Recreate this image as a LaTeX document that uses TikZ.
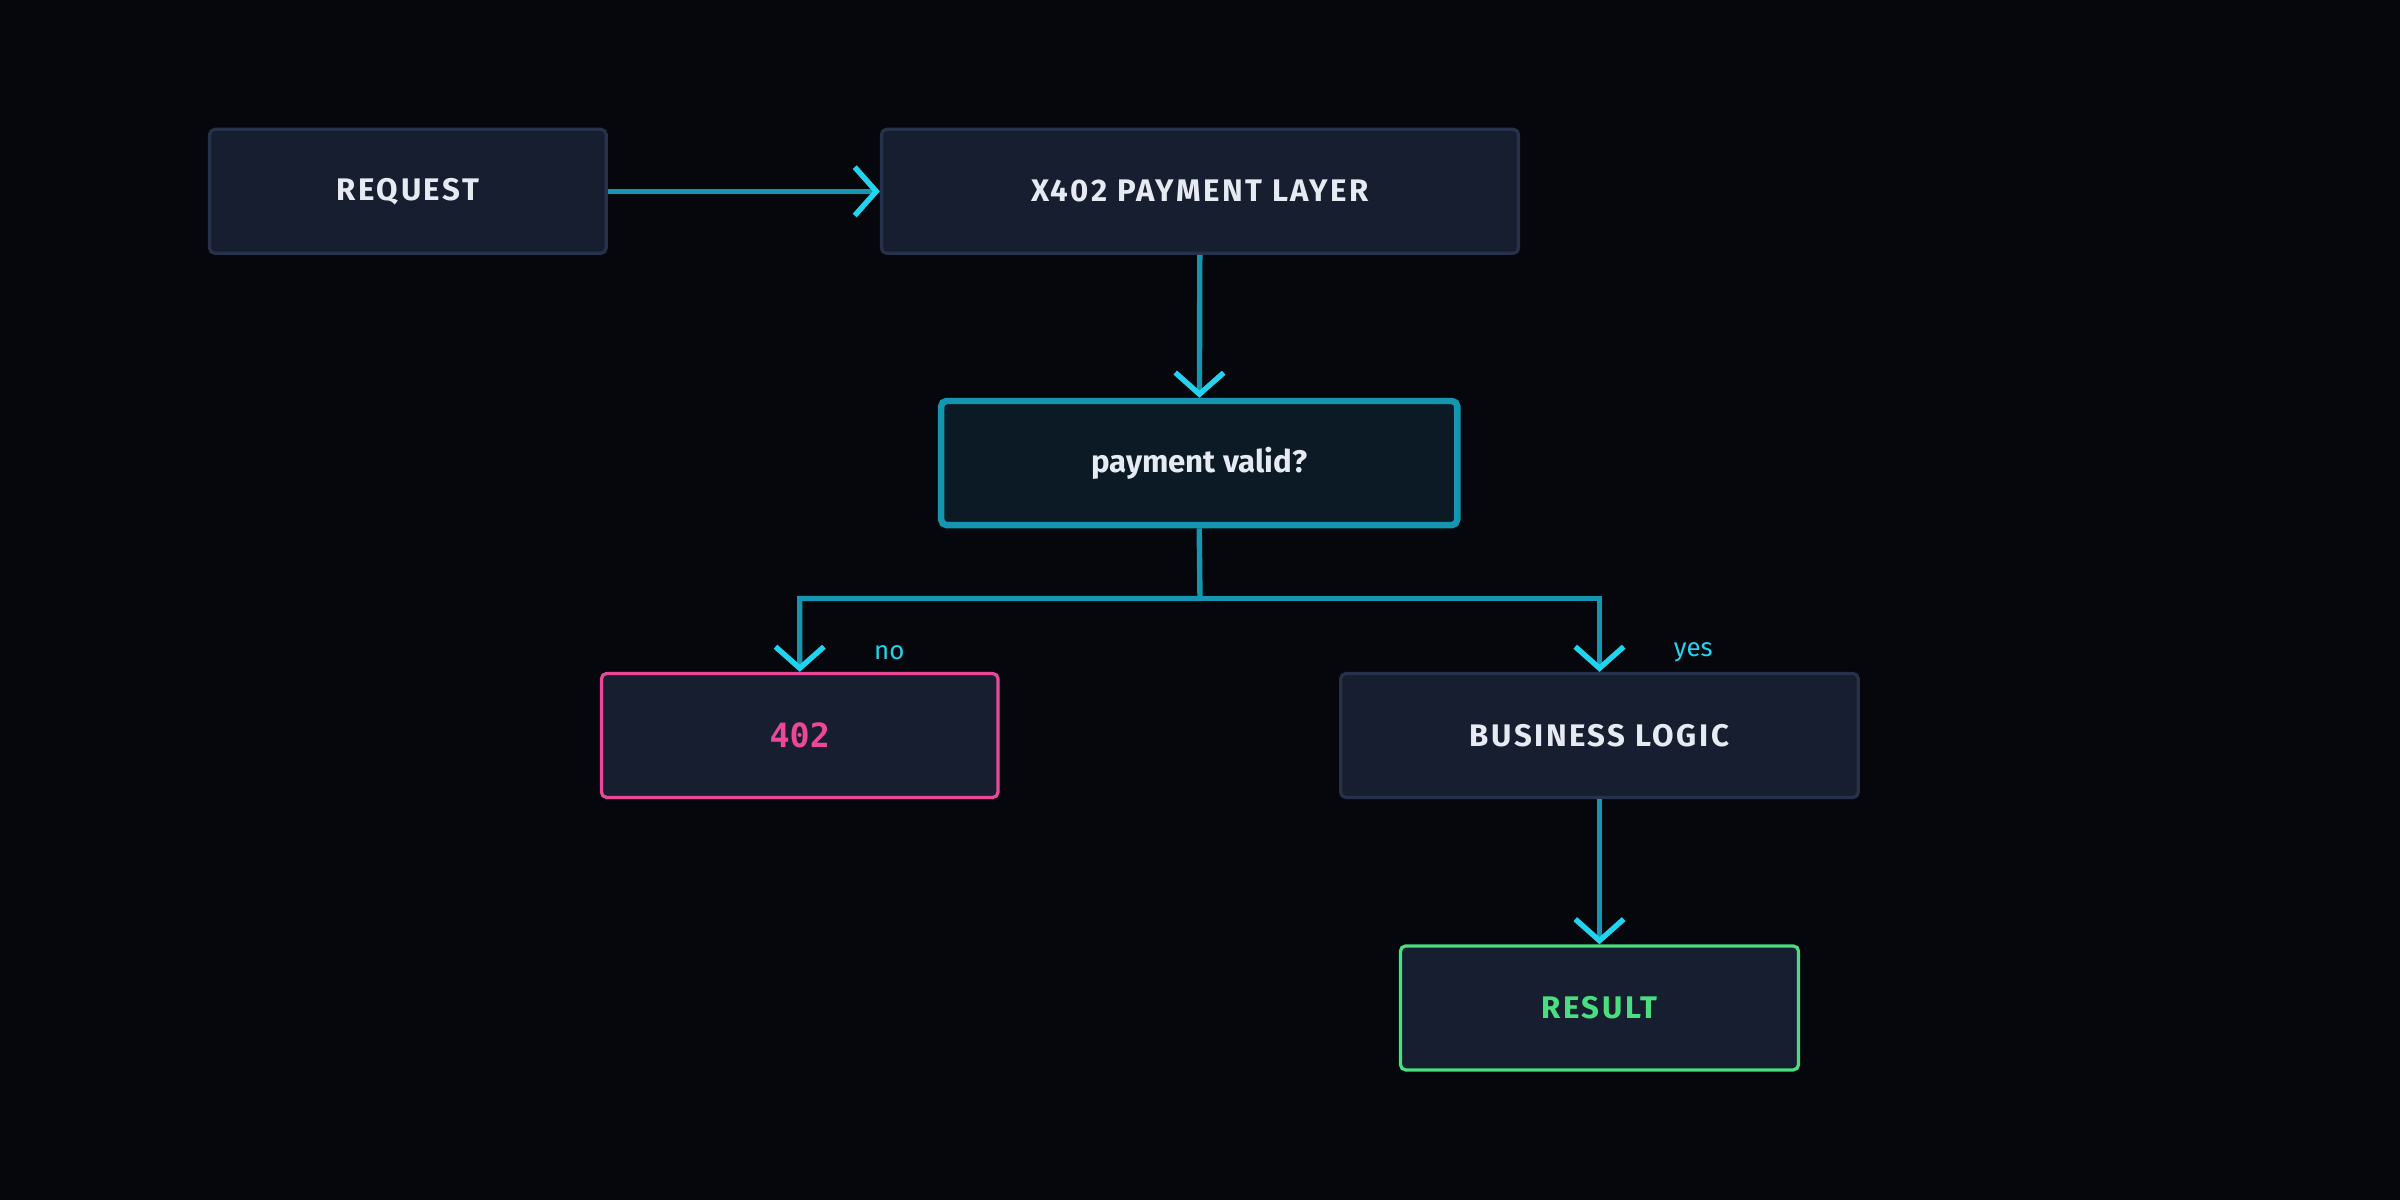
\documentclass[tikz,border=0pt]{standalone}
\usepackage{fontspec}
\setmainfont{Fira Sans}
\newfontfamily\capsfont[LetterSpace=8]{Fira Sans}
\newfontfamily\codefont{DejaVu Sans Mono}
\usetikzlibrary{arrows.meta}
\definecolor{bgdark}{HTML}{05070D}
\definecolor{boxfill}{HTML}{161E2F}
\definecolor{boxline}{HTML}{273149}
\definecolor{boxtext}{HTML}{E6EAF2}
\definecolor{flow}{HTML}{1496B0}
\definecolor{flowtip}{HTML}{22D3EE}
\definecolor{askfill}{HTML}{0B1A24}
\definecolor{failpink}{HTML}{EC4899}
\definecolor{okgreen}{HTML}{4ADE80}
\tikzset{
	every step/.style={
		rectangle,
		draw=boxline,
		fill=boxfill,
		line width=0.6pt,
		rounded corners=1pt,
		minimum height=0.81cm,
		text=boxtext,
		font=\capsfont\bfseries\fontsize{5.8}{7}\selectfont
	},
	step ask/.style={
		draw=flow,
		fill=askfill,
		line width=1.2pt,
		font=\bfseries\fontsize{5.8}{7}\selectfont
	},
	step fail/.style={
		draw=failpink,
		text=failpink,
		font=\codefont\bfseries\fontsize{6.2}{7}\selectfont
	},
	step ok/.style={
		draw=okgreen,
		text=okgreen
	},
	flow line/.style={
		draw=flow,
		line width=1pt,
		-{Straight Barb[color=flowtip,length=4pt,width=9pt,line width=1pt]}
	},
	branch label/.style={
		text=flowtip,
		font=\fontsize{4.8}{6}\selectfont
	},
}
\begin{document}
\begin{tikzpicture}[x=0.01cm, y=-0.01cm]
\fill [bgdark] (0,0) rectangle (1568,784);

\node [every step, minimum width=2.59cm] (request) at (266.5,125) {REQUEST};
\node [every step, minimum width=4.16cm] (layer) at (784,125) {X402 PAYMENT LAYER};
\node [every step, step ask, minimum width=3.37cm] (valid) at (783.5,302.5) {payment valid?};
\node [every step, step fail, minimum width=2.59cm] (denied) at (522.5,480.5) {402};
\node [every step, minimum width=3.38cm] (logic) at (1045,480.5) {BUSINESS LOGIC};
\node [every step, step ok, minimum width=2.6cm] (result) at (1045,658.5) {RESULT};

\coordinate (split) at (784,391);

\draw [flow line] (request) -- (layer);
\draw [flow line] (layer) -- (valid);
\draw [flow line] (valid.south) -- (split) -| (denied.north)
	node [branch label, pos=0.5, right=10pt, yshift=-10pt] {no};
\draw [flow line] (split) -| (logic.north)
	node [branch label, pos=0.5, right=10pt, yshift=-10pt] {yes};
\draw [flow line] (logic) -- (result);

\end{tikzpicture}
\end{document}
